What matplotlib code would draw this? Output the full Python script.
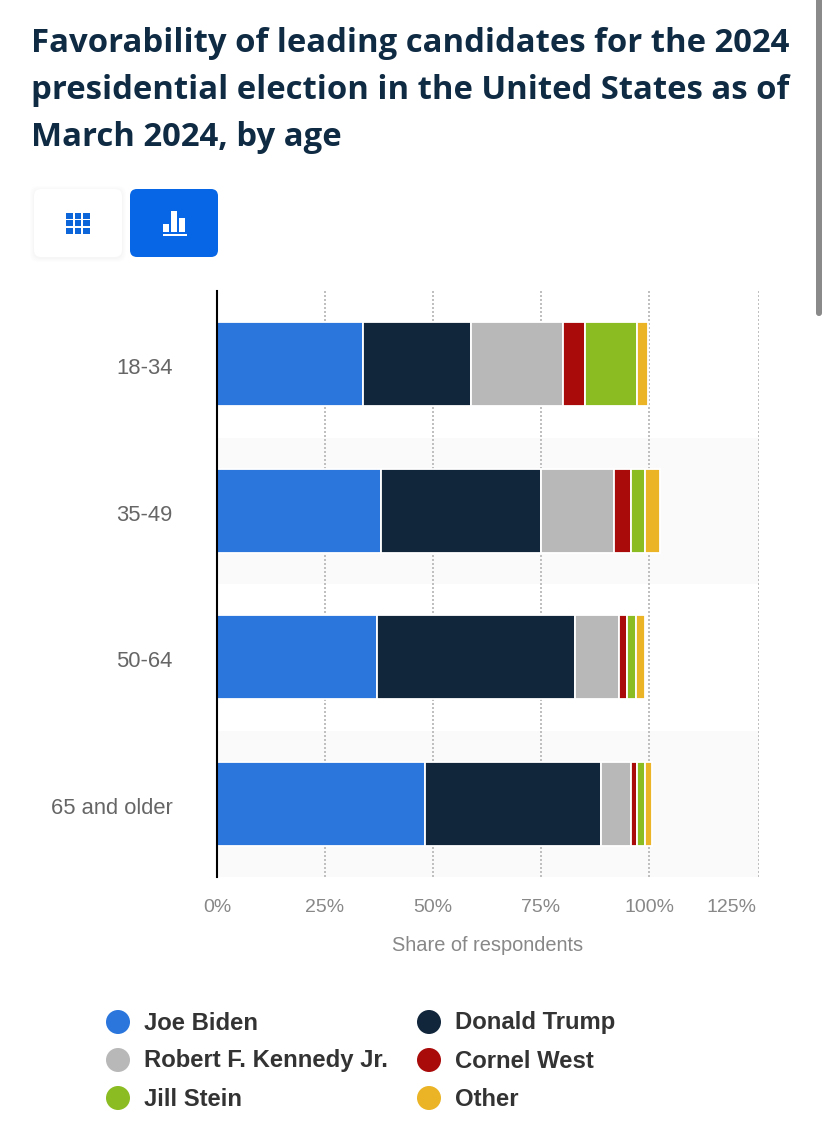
import matplotlib
matplotlib.use("Agg")
import matplotlib.pyplot as plt
from matplotlib.patches import Circle, FancyBboxPatch, Rectangle
from matplotlib.transforms import ScaledTranslation
import numpy as np

W, H = 827, 1147

TITLE = ["Favorability of leading candidates for the 2024",
         "presidential election in the United States as of",
         "March 2024, by age"]
ages = ["18-34", "35-49", "50-64", "65 and older"]
names = ["Joe Biden", "Donald Trump", "Robert F. Kennedy Jr.", "Cornel West", "Jill Stein", "Other"]
COLORS = ["#2a76dd", "#11263b", "#b8b8b8", "#a90b0b", "#8bbc21", "#ebb426"]

# read off the picture, so not quite whole numbers
biden = [33.8, 38, 37, 48.1]
trump = [25, 37, 45.9, 40.7]
kennedy = [21.3, 17, 10.1, 7]
west = [5.1, 3.8, 2, 1.4]
stein = [12, 3.2, 2, 1.8]
other = [2.6, 3.5, 2, 1.7]
series = [biden, trump, kennedy, west, stein, other]

x_ticks = [0, 25, 50, 75, 100, 125.46]
x_labels = ["0%", "25%", "50%", "75%", "100%", "125%"]

plt.rcParams["font.family"] = ["Liberation Sans", "DejaVu Sans"]
fig = plt.figure(figsize=(W / 100, H / 100), dpi=100)

# chart area, pixel box
ax = fig.add_axes([217 / W, 1 - 877 / H, 542 / W, 586 / H])
y = np.arange(len(ages))
ax.set_xlim(0, 125.46)
ax.set_ylim(3.5, -0.5)
for i in [1, 3]:
    ax.axhspan(i - 0.5, i + 0.5, color="#fafafa", lw=0, zorder=0)

left = np.zeros(len(ages))
for vals, name, col in zip(series, names, COLORS):
    ax.barh(y, vals, left=left, height=0.573, color=col, edgecolor="white",
            linewidth=1.3, label=name, zorder=3)
    left += np.array(vals)

ax.set_xticks(x_ticks)
ax.set_xticklabels(x_labels, color="#888888", fontsize=14)
ax.set_yticks(y)
ax.set_yticklabels(ages, color="#666666", fontsize=15.8)
ax.tick_params(axis="x", length=0, pad=15.5)
ax.tick_params(axis="y", length=0, pad=32)
for lab in ax.get_yticklabels():
    lab.set_transform(lab.get_transform() + ScaledTranslation(0, -2 / 100, fig.dpi_scale_trans))
last = ax.get_xticklabels()[-1]
last.set_ha("right")
last.set_transform(last.get_transform() + ScaledTranslation(-2 / 100, 0, fig.dpi_scale_trans))
ax.grid(axis="x", color="#c0c0c0", linewidth=1.44, linestyle=(0, (1, 1)), zorder=1)
ax.set_axisbelow(True)
for s in ["top", "right", "bottom"]:
    ax.spines[s].set_visible(False)
ax.spines["left"].set_linewidth(1.5)
ax.spines["left"].set_color("#000000")
ax.spines["left"].set_zorder(5)
ax.set_xlabel("Share of respondents", color="#888888", fontsize=14.4, labelpad=14.5)

# overlay in pixel coordinates for title, buttons, legend
ov = fig.add_axes([0, 0, 1, 1], facecolor="none")
ov.set_xlim(0, W)
ov.set_ylim(H, 0)
ov.axis("off")

for line, base in zip(TITLE, [52, 99, 146]):
    ov.text(31, base, line, family="Open Sans", fontweight="bold", fontsize=23.7,
            color="#0f2a43", va="baseline", ha="left")

# buttons
for off, a in [(4, 0.006), (3, 0.007), (2, 0.009), (1, 0.011)]:
    ov.add_patch(FancyBboxPatch((34 - off, 189 - off + 1), 88 + 2 * off, 68 + 2 * off,
                                boxstyle="round,pad=0,rounding_size=8", fc="black",
                                ec="none", alpha=a))
ov.add_patch(FancyBboxPatch((34, 189), 88, 68, boxstyle="round,pad=0,rounding_size=7",
                            fc="white", ec="none"))
ov.add_patch(FancyBboxPatch((130, 189), 88, 68, boxstyle="round,pad=0,rounding_size=7",
                            fc="#0666e6", ec="none"))
for cx in [66, 75, 83]:
    for cy in [213, 220, 228]:
        ov.add_patch(Rectangle((cx, cy), 7 if cx != 75 else 6, 5.5, fc="#0d66d9", ec="none"))
for bx, by, bw, bh in [(163, 224, 6, 8), (171.3, 211, 6, 21), (179, 218, 6, 14), (163, 234, 23.5, 2)]:
    ov.add_patch(Rectangle((bx, by), bw, bh, fc="white", ec="none"))

# scrollbar at the right edge
ov.add_patch(FancyBboxPatch((816, -10), 6, 326, boxstyle="round,pad=0,rounding_size=3",
                            fc="#8a8a8a", ec="none"))

# legend
for i, (name, col) in enumerate(zip(names, COLORS)):
    row, c = i // 2, i % 2
    cx = 118 if c == 0 else 429
    cy = 1022 + row * 38
    ov.add_patch(Circle((cx, cy), 12, fc=col, ec="none"))
    ov.text(cx + 26, cy + 1, name, fontsize=17.2, fontweight="bold", color="#333333",
            va="center", ha="left")

fig.savefig("out.png", dpi=100)
